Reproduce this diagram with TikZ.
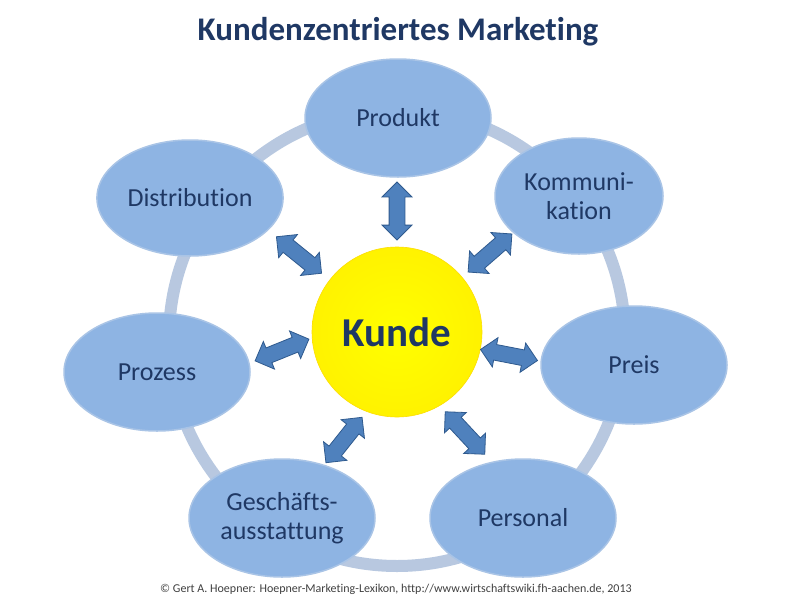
\documentclass[tikz,border=0pt]{standalone}
\usepackage{fontspec}
\setmainfont{Carlito}[Ligatures=NoCommon]
\usetikzlibrary{shapes.geometric,shapes.arrows}
\definecolor{navy}{HTML}{1F3864}
\definecolor{ellfill}{HTML}{8EB4E3}
\definecolor{ellline}{HTML}{A9C4E6}
\definecolor{ring}{HTML}{B8C8E0}
\definecolor{arrfill}{HTML}{4F81BD}
\definecolor{arrline}{HTML}{2F5A8E}
\tikzset{
 ell/.style={ellipse, fill=ellfill, draw=ellline, line width=1.5pt, minimum width=186pt, minimum height=118pt, align=center, font=\fontsize{26}{29}\selectfont, text=navy},
 darr/.style={double arrow, fill=arrfill, draw=arrline, line width=0.8pt, double arrow head extend=7pt, inner xsep=0pt, inner ysep=7.5pt, minimum height=58pt},
}
\begin{document}
\begin{tikzpicture}[x=1pt,y=-1pt]
\useasboundingbox (0,0) rectangle (792,600);
\fill[white] (0,0) rectangle (792,600);
\node[font=\bfseries\fontsize{33}{36}\selectfont, text=navy] (title) at (398,32) {Kundenzentriertes Marketing};
\draw[ring, line width=12pt] (397,338) circle[radius=228];
\node[ell] (produkt) at (398,118) {Produkt};
\node[ell, minimum width=168pt, minimum height=116pt] (komm) at (579,196) {Kommuni-\\kation};
\node[ell] (preis) at (634,365) {Preis};
\node[ell] (personal) at (523,518) {Personal};
\node[ell] (gesch) at (282,518) {Geschäfts-\\ausstattung};
\node[ell] (prozess) at (157,372) {Prozess};
\node[ell, minimum height=116pt] (distr) at (190,198) {Distribution};
\node[circle, minimum size=170pt, shade, inner color=yellow, outer color=yellow!90!orange, draw=yellow!80!orange, line width=0.6pt, text=navy, font=\bfseries\fontsize{41}{44}\selectfont] (kunde) at (397,332) {Kunde};
\node[darr, rotate=90] (a1) at (397,211) {};
\node[darr, rotate=41] (a2) at (490,253) {};
\node[darr, rotate=-11] (a3) at (509,355) {};
\node[darr, rotate=-47] (a4) at (465,433) {};
\node[darr, rotate=51.5] (a5) at (344,440) {};
\node[darr, rotate=22] (a6) at (282,350) {};
\node[darr, rotate=-39] (a7) at (299,255) {};
\node[font=\fontsize{12}{14}\selectfont, text=black!75] (foot) at (396,589) {© Gert A. Hoepner: Hoepner-Marketing-Lexikon, http://www.wirtschaftswiki.fh-aachen.de, 2013};
\end{tikzpicture}
\end{document}
